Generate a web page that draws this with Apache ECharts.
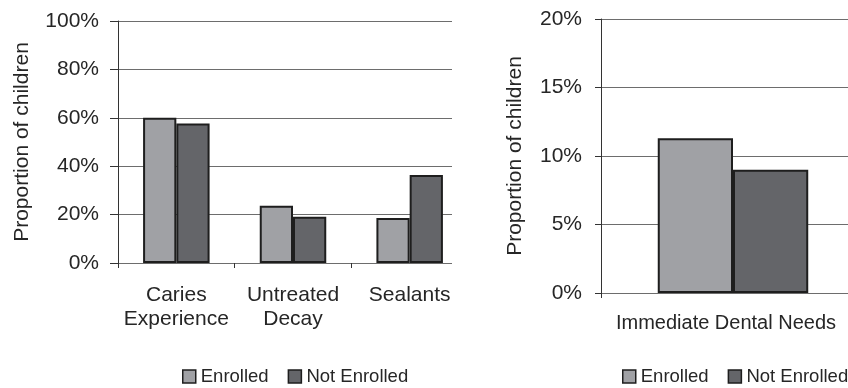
<!DOCTYPE html>
<html>
<head>
<meta charset="utf-8">
<script src="https://cdn.jsdelivr.net/npm/echarts@6/dist/echarts.min.js"></script>
<style>
  html, body { margin: 0; padding: 0; background: #fff; overflow: hidden; }
  /* the right panel's plot area runs past the visible edge */
  #chart { width: 880px; height: 388px; }
</style>
</head>
<body>
<div id="chart"></div>
<script>
// Oral health outcomes, enrolled vs. not enrolled children
const careCategories = ['Caries\nExperience', 'Untreated\nDecay', 'Sealants'];
const enrolledCare = [60.0, 23.7, 18.6];
const notEnrolledCare = [57.6, 19.1, 36.4];

const needsCategories = ['Immediate Dental Needs'];
const enrolledNeeds = [11.3];
const notEnrolledNeeds = [9.0];

const careTicks = [0, 20, 40, 60, 80, 100];
const needsTicks = [0, 5, 10, 15, 20];

const seriesNames = ['Enrolled', 'Not Enrolled'];

const FONT = '"Liberation Sans", Arial, sans-serif';
const TEXT = '#262626';
const AXIS = '#333333';
const GRID = '#6d6d6d';
const LIGHT = '#a0a1a5';
const DARK = '#646569';
const EDGE = '#1e1e1e';

function valueAxis(gridIndex, ticks, nameGap, tickLen) {
  return {
    type: 'value',
    gridIndex: gridIndex,
    min: ticks[0],
    max: ticks[ticks.length - 1],
    interval: ticks[1] - ticks[0],
    name: 'Proportion of children',
    nameLocation: 'middle',
    nameGap: nameGap,
    nameTextStyle: { fontFamily: FONT, fontSize: 21, color: TEXT },
    axisLine: { show: true, lineStyle: { color: AXIS, width: 1 } },
    axisTick: { show: true, length: tickLen, lineStyle: { color: AXIS, width: 1 } },
    axisLabel: { formatter: '{value}%', fontFamily: FONT, fontSize: 21, color: TEXT, margin: 19 },
    splitLine: { show: true, lineStyle: { color: GRID, width: 1 } }
  };
}

function hiddenValue(gridIndex, max) {
  return { type: 'value', gridIndex: gridIndex, min: 0, max: max, show: false };
}

function barSeries(name, data, xIdx, yIdx, color) {
  return {
    name: name,
    type: 'bar',
    xAxisIndex: xIdx,
    yAxisIndex: yIdx,
    data: data,
    barGap: '0%',
    barCategoryGap: '43%',
    itemStyle: { color: color, borderColor: EDGE, borderWidth: 2 },
    emphasis: { disabled: true }
  };
}

function legendAt(left) {
  return {
    data: seriesNames,
    left: left,
    top: 367,
    width: 300,
    padding: 0,
    icon: 'rect',
    itemWidth: 13,
    itemHeight: 13,
    itemGap: 19,
    selectedMode: false,
    itemStyle: { borderColor: EDGE, borderWidth: 1.5 },
    textStyle: { fontFamily: FONT, fontSize: 18.5, color: TEXT }
  };
}

const chart = echarts.init(document.getElementById('chart'), null, { renderer: 'canvas' });

chart.setOption({
  animation: false,
  backgroundColor: '#ffffff',
  textStyle: { fontFamily: FONT },
  grid: [
    { left: 118, top: 21, width: 334, height: 242 },   // left panel: axis and gridlines
    { left: 118, top: 21, width: 350, height: 242 },   // left panel: bars
    { left: 601, top: 19, width: 264, height: 274 }    // right panel
  ],
  xAxis: [
    hiddenValue(0, 1),
    {
      type: 'category',
      gridIndex: 1,
      data: careCategories,
      axisLine: { show: false },
      axisTick: { show: false },
      axisLabel: { fontFamily: FONT, fontSize: 21, lineHeight: 24, color: TEXT, margin: 20, interval: 0 },
      splitLine: { show: false }
    },
    {
      // category boundary ticks for the left panel
      type: 'value',
      gridIndex: 1,
      min: 0,
      max: careCategories.length,
      interval: 1,
      position: 'bottom',
      axisLine: { show: false },
      axisLabel: { show: false },
      splitLine: { show: false },
      axisTick: {
        show: true,
        length: 5,
        customValues: careCategories.map((_, i) => i),
        lineStyle: { color: AXIS, width: 1 }
      }
    },
    {
      type: 'category',
      gridIndex: 2,
      data: needsCategories,
      axisLine: { show: false },
      axisTick: { show: true, length: 5, lineStyle: { color: AXIS, width: 1 } },
      axisLabel: { fontFamily: FONT, fontSize: 20, color: TEXT, margin: 20, padding: [0, 14, 0, 0] },
      splitLine: { show: false }
    }
  ],
  yAxis: [
    valueAxis(0, careTicks, 85, 8),
    hiddenValue(1, careTicks[careTicks.length - 1]),
    valueAxis(2, needsTicks, 75, 6)
  ],
  legend: [legendAt(182), legendAt(622)],
  series: [
    barSeries(seriesNames[0], enrolledCare, 1, 1, LIGHT),
    barSeries(seriesNames[1], notEnrolledCare, 1, 1, DARK),
    barSeries(seriesNames[0], enrolledNeeds, 3, 2, LIGHT),
    barSeries(seriesNames[1], notEnrolledNeeds, 3, 2, DARK)
  ]
});
</script>
</body>
</html>
